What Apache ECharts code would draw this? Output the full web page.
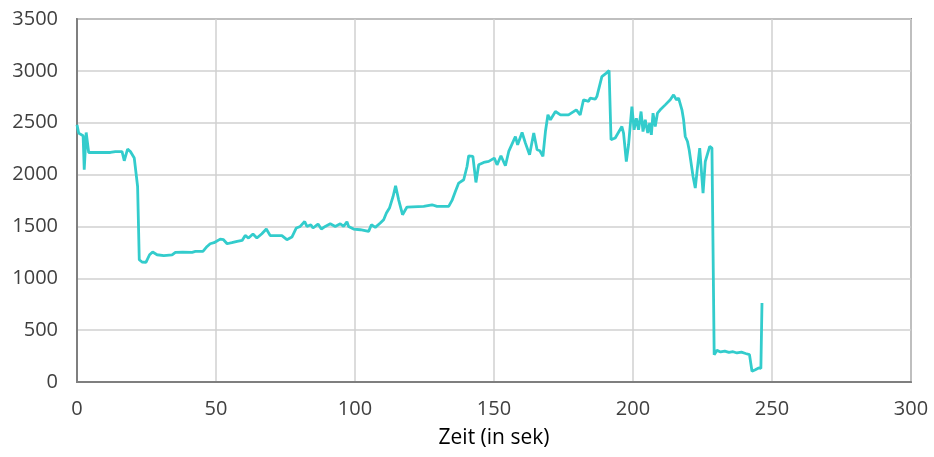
<!DOCTYPE html>
<html><head><meta charset="utf-8">
<script src="https://cdn.jsdelivr.net/npm/echarts@6/dist/echarts.min.js"></script>
<style>html,body{margin:0;padding:0;background:#fff}#c{width:934px;height:457px}</style>
</head><body><div id="c"></div>
<script>
const xTitle = "Zeit (in sek)";
const times = [0,0.6,2.2,2.6,3.3,4.2,12,13.8,16.2,17,17.7,18.2,19.2,20.6,21.3,21.8,22.4,23.4,24.8,26.1,27.2,28.8,31.2,34.2,35.4,38,41.4,42.6,45.3,46.8,47.9,49.3,51.5,52.7,54,55.7,57.6,59.4,60.5,61.7,63.3,64.7,66.5,68.1,69.5,73.7,75.5,77.3,78.9,80.3,81.9,82.7,84.1,84.9,86.7,87.9,89.3,91.1,92.9,94.7,95.9,97.1,97.7,99.5,101.9,104.9,105.9,107.3,109.1,110.3,111.3,112.4,113.7,114.6,115.7,117.1,118.7,124.7,127.7,129.5,133.7,134.9,136.1,137.3,139.1,140.3,140.9,142.4,143.5,144.5,146.3,148.1,150.1,151.1,152.5,154.1,155.3,157.7,158.5,160.1,161.3,162.8,164.3,165.5,166.5,167.6,168.5,169.4,170.3,172.1,173.9,176.8,179.6,181,182.2,184,184.6,186.4,187,188.8,190.4,191.4,192.1,193.6,196,196.6,197.6,198.4,199.6,200.4,201.2,202,202.9,203.6,204.4,205.3,206,206.6,207.2,208,208.8,209.8,211.6,213.4,214.6,215.6,216.4,217.6,218.2,218.8,219.6,220.2,221.6,222.4,223.1,224,225.2,226,227.6,228.4,229.2,230.2,231.5,233,234.5,236,237.4,239,240.5,241.9,242.8,244,245.2,246,246.4];
const values = [2480,2400,2374,2046,2406,2213,2213,2222,2222,2133,2200,2245,2222,2159,2143,1885,1179,1157,1153,1227,1253,1227,1218,1225,1250,1253,1250,1259,1259,1307,1333,1343,1378,1372,1333,1343,1356,1365,1413,1388,1427,1388,1430,1475,1411,1411,1372,1398,1485,1500,1548,1500,1516,1485,1523,1475,1500,1526,1500,1526,1500,1545,1500,1475,1468,1452,1516,1491,1533,1565,1629,1677,1789,1892,1757,1613,1687,1693,1709,1693,1693,1751,1837,1918,1950,2078,2181,2175,1924,2094,2117,2127,2159,2094,2181,2085,2223,2367,2287,2406,2303,2191,2400,2239,2230,2175,2415,2576,2528,2608,2576,2576,2624,2576,2721,2705,2737,2727,2752,2945,2978,3003,2335,2352,2463,2400,2126,2287,2656,2432,2544,2432,2608,2415,2528,2400,2497,2383,2592,2463,2592,2624,2672,2721,2769,2721,2737,2624,2528,2367,2319,2239,1982,1870,2046,2255,1822,2126,2271,2255,264,305,290,298,285,292,280,288,275,264,103,119,136,130,762];
const data = times.map((t,i)=>[t,values[i]]);
const chart = echarts.init(document.getElementById('c'));
chart.setOption({
  animation:false,
  grid:{left:77,right:23,top:19,bottom:75,show:true,borderColor:'#8c8c8c',borderWidth:2},
  xAxis:{type:'value',min:0,max:300,interval:50,name:xTitle,nameLocation:'middle',nameGap:46,
    nameTextStyle:{color:'#000',fontSize:21,fontFamily:'Open Sans'},
    axisLine:{show:true,onZero:false,lineStyle:{color:'#7f7f7f',width:2}},axisTick:{show:false},
    axisLabel:{color:'#404040',fontSize:20,fontFamily:'Open Sans',margin:17},
    splitLine:{show:true,lineStyle:{color:'#d0d0d0',width:1.5}}},
  yAxis:{type:'value',min:0,max:3500,interval:500,
    axisLine:{show:true,lineStyle:{color:'#7f7f7f',width:2}},axisTick:{show:false},
    axisLabel:{color:'#404040',fontSize:20,fontFamily:'Open Sans',margin:19,formatter:v=>String(v)},
    splitLine:{show:true,lineStyle:{color:'#d0d0d0',width:1.5}}},
  series:[{type:'line',data:data,showSymbol:false,symbol:'none',lineStyle:{color:'#33CCCC',width:2.8},itemStyle:{color:'#33CCCC'}}]
});
</script></body></html>
